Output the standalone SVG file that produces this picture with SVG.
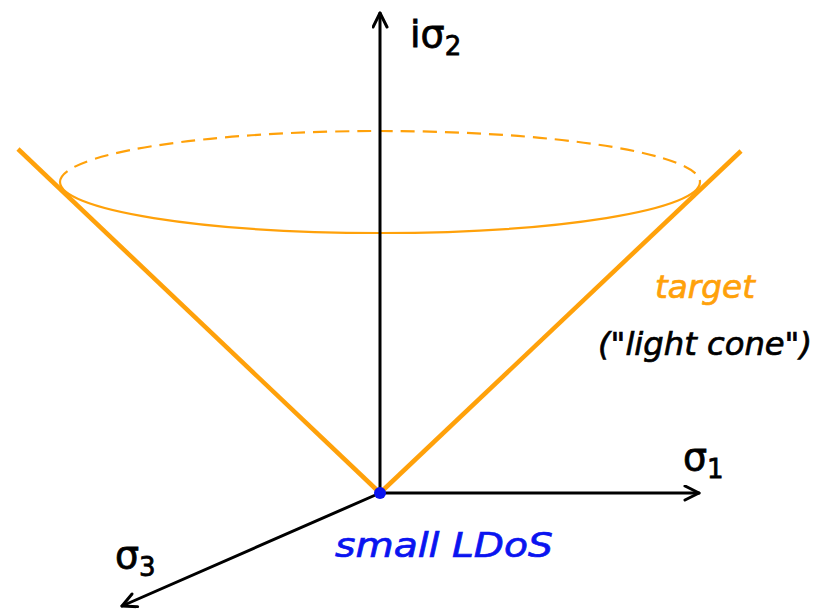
<svg xmlns="http://www.w3.org/2000/svg" width="823" height="609" viewBox="0 0 823 609">
<style>
.axis{stroke:#000;stroke-width:3;fill:none;stroke-linecap:round}
.cone{stroke:#ffa10a;stroke-width:4.5;fill:none}
.ell{stroke:#ffa10a;stroke-width:2.2;fill:none}
.lbl{font-family:"DejaVu Sans",sans-serif;fill:#000;stroke:#000;stroke-width:0.8}
.hand{font-family:"DejaVu Sans",sans-serif;font-style:italic;stroke-width:0.7}
</style>
<defs>
<marker id="arr" markerWidth="20" markerHeight="20" refX="16" refY="8" orient="auto" markerUnits="userSpaceOnUse">
<path d="M2,1 L16,8 L2,15" fill="none" stroke="#000" stroke-width="3" stroke-linecap="round" stroke-linejoin="round"/>
</marker>
</defs>
<g id="cone">
<path class="ell" d="M60,182 A320,51 0 0 1 700,182" stroke-dasharray="14,8"/>
<path class="ell" d="M60,182 A320,51 0 0 0 700,182"/>
<line class="cone" x1="380" y1="493" x2="18" y2="149"/>
<line class="cone" x1="380" y1="493" x2="741" y2="151"/>
</g>
<g id="connectors">
<line class="axis" x1="380" y1="493" x2="380" y2="13" marker-end="url(#arr)"/>
<line class="axis" x1="380" y1="493" x2="699" y2="493" marker-end="url(#arr)"/>
<line class="axis" x1="380" y1="493" x2="122" y2="606" marker-end="url(#arr)"/>
</g>
<g id="origin">
<circle cx="380" cy="493" r="6" fill="#0a14f0"/>
<text class="hand" x="335" y="557" font-size="34" fill="#0a14f0" stroke="#0a14f0" textLength="218" lengthAdjust="spacingAndGlyphs">small LDoS</text>
</g>
<g id="labels">
<text class="lbl" x="410" y="47" font-size="38">iσ<tspan font-size="26" dy="8">2</tspan></text>
<text class="lbl" x="683" y="470" font-size="38">σ<tspan font-size="26" dy="8">1</tspan></text>
<text class="lbl" x="115" y="568" font-size="38">σ<tspan font-size="26" dy="8">3</tspan></text>
<text class="hand" x="655" y="298" font-size="32" fill="#ffa10a" stroke="#ffa10a" textLength="100" lengthAdjust="spacingAndGlyphs">target</text>
<text class="hand" x="598" y="355" font-size="32" fill="#000" stroke="#000" textLength="214" lengthAdjust="spacingAndGlyphs">("light cone")</text>
</g>
</svg>
